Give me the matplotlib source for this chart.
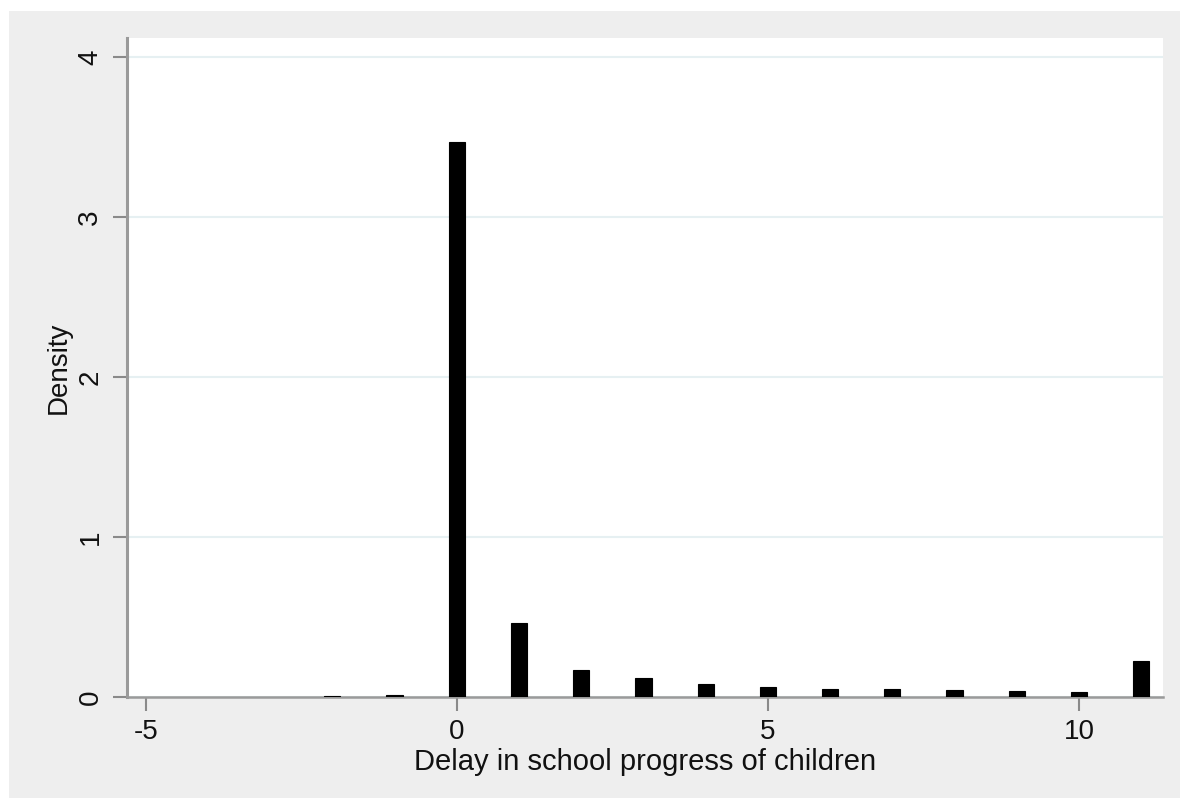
import numpy as np
import matplotlib
matplotlib.use("Agg")
from matplotlib import pyplot as plt
from matplotlib.patches import Rectangle

# datos
delay = [-2, -1, 0, 1, 2, 3, 4, 5, 6, 7, 8, 9, 10, 11]
density = [0.006, 0.012, 3.47, 0.46, 0.171, 0.119, 0.084, 0.063, 0.048, 0.048, 0.042, 0.035, 0.031, 0.225]
xticks = [-5, 0, 5, 10]
yticks = [0, 1, 2, 3, 4]

plt.rcParams['font.family'] = ['Liberation Sans', 'DejaVu Sans']
plt.rcParams['axes.unicode_minus'] = False

fig = plt.figure(figsize=(11.8, 7.98), dpi=100, facecolor='white')
# fondo gris estilo Stata (detras de los ejes)
fig.patches.append(Rectangle((9 / 1180, 0), 1 - 9 / 1180, 1 - 11 / 798,
                             transform=fig.transFigure, facecolor='#eeeeee',
                             edgecolor='none', zorder=-10))

ax = fig.add_axes([127 / 1180, 1 - 697 / 798, (1163 - 127) / 1180, (697 - 38) / 798])
ax.set_facecolor('white')

ax.bar(delay, density, width=0.26, color='black', edgecolor='black', linewidth=0.8, zorder=3)

ax.set_xlim(-5.3, 11.35)
ax.set_ylim(0, 4.12)
ax.set_xticks(xticks)
ax.set_yticks(yticks)
ax.set_yticklabels([str(v) for v in yticks], rotation=90, va='center')

ax.yaxis.grid(True, color='#e6f0f2', linewidth=1.5, zorder=0)
ax.set_axisbelow(True)

for s in ['top', 'right']:
    ax.spines[s].set_visible(False)
ax.spines['left'].set_color('#9a9a9a')
ax.spines['left'].set_linewidth(2.2)
ax.spines['bottom'].set_color('#9a9a9a')
ax.spines['bottom'].set_linewidth(1.8)

ax.tick_params(axis='both', direction='out', length=10, width=1.5, color='#8a8a8a',
               labelsize=20, labelcolor='#111111')
ax.tick_params(axis='x', pad=6)
ax.tick_params(axis='y', pad=7)

ax.set_xlabel('Delay in school progress of children', fontsize=21, color='#111111', labelpad=2)
ax.set_ylabel('Density', fontsize=20, color='#111111', labelpad=4)

fig.savefig('out.png', dpi=100, facecolor=fig.get_facecolor())
